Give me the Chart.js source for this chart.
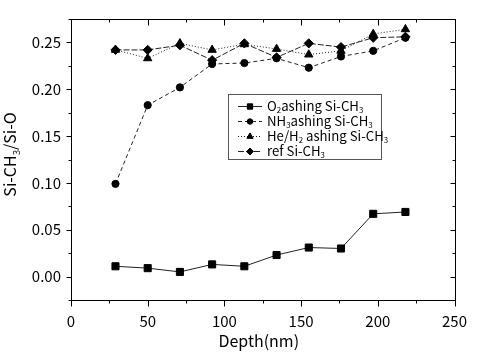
<!DOCTYPE html>
<html>
<head>
<meta charset="utf-8">
<script src="https://cdn.jsdelivr.net/npm/chart.js@4"></script>
<style>
html,body{margin:0;padding:0;background:#fff;}
#wrap{width:479px;height:358px;}
</style>
</head>
<body>
<div id="wrap"><canvas id="c" width="479" height="358"></canvas></div>
<script>
// ---- data ----
const depth = [29, 50, 71, 92, 113, 134, 155, 176, 197, 218];
const o2Ashing   = [0.011, 0.009, 0.005, 0.013, 0.011, 0.023, 0.031, 0.030, 0.067, 0.069];
const nh3Ashing  = [0.099, 0.183, 0.202, 0.227, 0.228, 0.233, 0.223, 0.235, 0.241, 0.255];
const heh2Ashing = [0.242, 0.233, 0.249, 0.242, 0.248, 0.243, 0.237, 0.241, 0.259, 0.264];
const refSiCH3   = [0.242, 0.242, 0.247, 0.231, 0.249, 0.234, 0.249, 0.245, 0.255, 0.256];
const xTicks = [0, 50, 100, 150, 200, 250];
const xMinor = [25, 75, 125, 175, 225];
const yTicks = [0.00, 0.05, 0.10, 0.15, 0.20, 0.25];
const yMinor = [-0.025, 0.025, 0.075, 0.125, 0.175, 0.225, 0.275];
const seriesLabels = ['O2ashing Si-CH3', 'NH3ashing Si-CH3', 'He/H2 ashing Si-CH3', 'ref Si-CH3'];
// rich labels (text, subscript?)
const legendRich = [
  [['O',0],['2',1],['ashing Si-CH',0],['3',1]],
  [['NH',0],['3',1],['ashing Si-CH',0],['3',1]],
  [['He/H',0],['2',1],[' ashing Si-CH',0],['3',1]],
  [['ref Si-CH',0],['3',1]]
];
const yTitleRich = [['Si-CH',0],['3',1],['/Si-O',0]];
const xTitle = 'Depth(nm)';

const FONT = '"Noto Sans CJK JP", "Liberation Sans", sans-serif';

function mk(label, data, style, radius, dash) {
  return {
    label: label,
    data: depth.map((d, i) => ({x: d, y: data[i]})),
    borderColor: '#222',
    backgroundColor: '#000',
    pointBackgroundColor: '#000',
    pointBorderColor: '#000',
    borderWidth: 1,
    pointStyle: style,
    pointRadius: radius,
    pointBorderWidth: 1,
    borderDash: dash,
    tension: 0,
    fill: false
  };
}

function drawRich(ctx, parts, x, y, size) {
  let cx = x;
  for (const [t, sub] of parts) {
    ctx.font = (sub ? size * 0.6 : size) + 'px ' + FONT;
    ctx.fillText(t, cx, sub ? y + size * 0.22 : y);
    cx += ctx.measureText(t).width;
  }
  return cx - x;
}
function richWidth(ctx, parts, size) {
  let w = 0;
  for (const [t, sub] of parts) {
    ctx.font = (sub ? size * 0.6 : size) + 'px ' + FONT;
    w += ctx.measureText(t).width;
  }
  return w;
}

const decor = {
  id: 'decor',
  afterDatasetsDraw(chart) {
    const {ctx, chartArea: a, scales: {x, y}} = chart;
    ctx.save();
    ctx.strokeStyle = '#000';
    ctx.fillStyle = '#000';
    ctx.lineWidth = 1;
    const L = Math.round(a.left) + 0.5, R = Math.round(a.right) + 0.5;
    const T = Math.round(a.top) + 0.5, B = Math.round(a.bottom) + 0.5;
    ctx.strokeRect(L, T, R - L, B - T);
    ctx.beginPath();
    const tickX = (v, len) => {
      const px = Math.round(x.getPixelForValue(v)) + 0.5;
      ctx.moveTo(px, B); ctx.lineTo(px, B + len);
      ctx.moveTo(px, T); ctx.lineTo(px, T + len);
    };
    const tickY = (v, len) => {
      const py = Math.round(y.getPixelForValue(v)) + 0.5;
      ctx.moveTo(L, py); ctx.lineTo(L - len, py);
      ctx.moveTo(R, py); ctx.lineTo(R - len, py);
    };
    xTicks.forEach(v => tickX(v, 6));
    xMinor.forEach(v => tickX(v, 3));
    yTicks.forEach(v => tickY(v, 5));
    yMinor.forEach(v => tickY(v, 3));
    ctx.stroke();

    // axis titles
    ctx.textBaseline = 'alphabetic';
    ctx.font = '16px ' + FONT;
    ctx.textAlign = 'left';
    const xtw = ctx.measureText(xTitle).width;
    ctx.fillText(xTitle, (a.left + a.right) / 2 - xtw / 2 - 4, 347);

    ctx.save();
    ctx.translate(16, (a.top + a.bottom) / 2 - 5);
    ctx.rotate(-Math.PI / 2);
    const ytw = richWidth(ctx, yTitleRich, 16);
    drawRich(ctx, yTitleRich, -ytw / 2, 0, 16);
    ctx.restore();

    // legend
    const bx = 228.5, by = 94.5, bw = 153, bh = 65;
    ctx.fillStyle = '#fff';
    ctx.fillRect(bx, by, bw, bh);
    ctx.strokeStyle = '#555';
    ctx.strokeRect(bx, by, bw, bh);
    const ds = chart.data.datasets;
    for (let i = 0; i < ds.length; i++) {
      const d = ds[i];
      const ry = 106 + i * 15;
      ctx.strokeStyle = '#222';
      ctx.lineWidth = 1;
      ctx.setLineDash(d.borderDash || []);
      ctx.beginPath();
      ctx.moveTo(238, ry + 0.5); ctx.lineTo(262, ry + 0.5);
      ctx.stroke();
      ctx.setLineDash([]);
      ctx.fillStyle = '#000';
      ctx.strokeStyle = '#000';
      Chart.helpers.drawPoint(ctx, {pointStyle: d.pointStyle, radius: d.pointRadius * 0.75, rotation: 0, borderWidth: 1}, 250, ry + 0.5);
      ctx.fill();
      ctx.fillStyle = '#000';
      drawRich(ctx, legendRich[i], 267, ry + 4.5, 13.2);
    }
    ctx.restore();
  }
};

new Chart(document.getElementById('c'), {
  type: 'line',
  data: {
    datasets: [
      mk(seriesLabels[0], o2Ashing, 'rect', 5, []),
      mk(seriesLabels[1], nh3Ashing, 'circle', 3.6, [4, 3]),
      mk(seriesLabels[2], heh2Ashing, 'triangle', 4.8, [1, 2]),
      mk(seriesLabels[3], refSiCH3, 'rectRot', 4.6, [6, 2])
    ]
  },
  options: {
    responsive: false,
    animation: false,
    devicePixelRatio: 1,
    layout: {padding: {left: 0, right: 11, top: 7, bottom: 0}},
    plugins: {legend: {display: false}, tooltip: {enabled: false}},
    scales: {
      x: {
        type: 'linear', min: 0, max: 250,
        afterFit: s => { s.height = 58; },
        afterBuildTicks: s => { s.ticks = xTicks.map(v => ({value: v})); },
        grid: {display: false, drawTicks: false},
        border: {display: false},
        ticks: {color: '#000', font: {family: FONT, size: 15}, padding: 12, maxRotation: 0,
                callback: v => String(v)}
      },
      y: {
        type: 'linear', min: -0.025, max: 0.275,
        afterFit: s => { s.width = 71; },
        afterBuildTicks: s => { s.ticks = yTicks.map(v => ({value: v})); },
        grid: {display: false, drawTicks: false},
        border: {display: false},
        ticks: {color: '#000', font: {family: FONT, size: 15}, padding: 10,
                callback: v => Number(v).toFixed(2)}
      }
    }
  },
  plugins: [decor]
});
</script>
</body>
</html>
